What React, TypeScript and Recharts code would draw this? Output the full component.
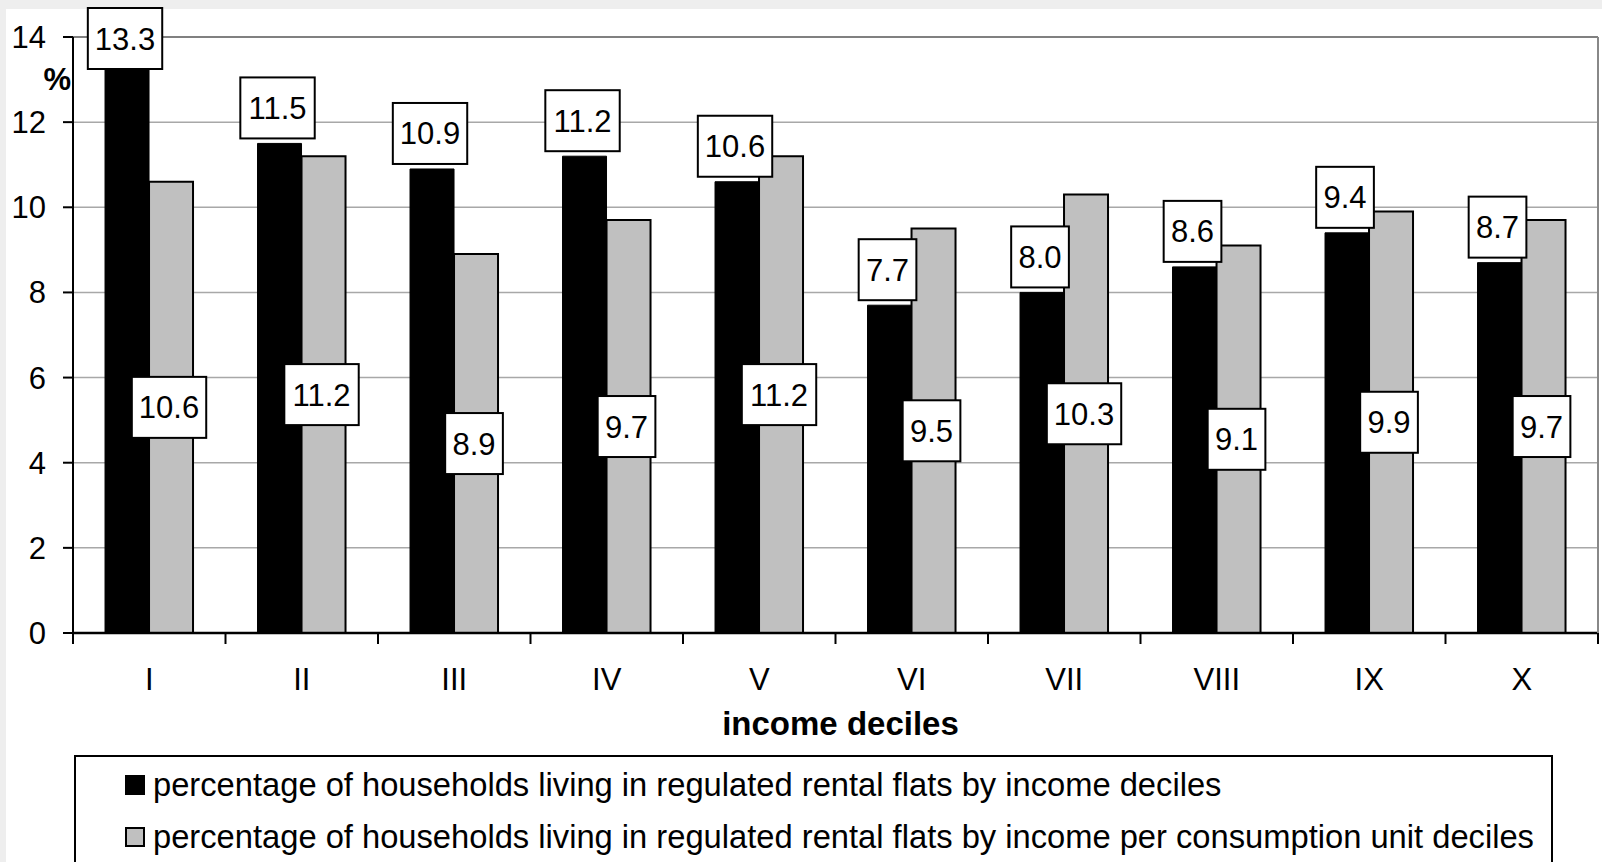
import {
  BarChart,
  Bar,
  XAxis,
  YAxis,
  CartesianGrid,
  Legend,
  LabelList,
  ReferenceLine
} from 'recharts'

const deciles = ['I', 'II', 'III', 'IV', 'V', 'VI', 'VII', 'VIII', 'IX', 'X']
const byIncome = [13.3, 11.5, 10.9, 11.2, 10.6, 7.7, 8.0, 8.6, 9.4, 8.7]
const byConsumptionUnit = [10.6, 11.2, 8.9, 9.7, 11.2, 9.5, 10.3, 9.1, 9.9, 9.7]
const yTicks = [0, 2, 4, 6, 8, 10, 12, 14]
const seriesNames = [
  'percentage of households living in regulated rental flats by income deciles',
  'percentage of households living in regulated rental flats by income per consumption unit deciles'
]

const chartData = deciles.map((d, i) => ({
  decile: d,
  income: byIncome[i],
  unit: byConsumptionUnit[i]
}))

const FONT = '"Liberation Sans", Arial, Helvetica, sans-serif'
const BOX_H = 61

function boxWidth(text: string) {
  let w = 0
  for (const c of text) w += c === '.' ? 8.3 : 16.7
  return w + 16
}

function ValueBox({ cx, cy, text }: { cx: number; cy: number; text: string }) {
  const w = boxWidth(text)
  return (
    <g>
      <rect
        x={cx - w / 2}
        y={cy - BOX_H / 2}
        width={w}
        height={BOX_H}
        fill="#fff"
        stroke="#000"
        strokeWidth={2}
      />
      <text x={cx} y={cy} dy={11} textAnchor="middle" fontSize={31} fontFamily={FONT} fill="#000">
        {text}
      </text>
    </g>
  )
}

// black series: box sits just above the bar, kept inside the plot top
const topLabel = (props: any) => {
  const { x, y, width, value } = props
  const cy = Math.max(Number(y) - 5 - BOX_H / 2, 8 + BOX_H / 2)
  return <ValueBox cx={Number(x) + Number(width) / 2 - 2} cy={cy} text={Number(value).toFixed(1)} />
}

// grey series: box in the middle of the bar
const centerLabel = (props: any) => {
  const { x, y, width, height, value } = props
  return (
    <ValueBox
      cx={Number(x) + Number(width) / 2 - 2}
      cy={Number(y) + Number(height) / 2}
      text={Number(value).toFixed(1)}
    />
  )
}

function DecileTick(props: any) {
  const { x, y, payload, index } = props
  const half = payload?.offset || 1525 / deciles.length / 2
  return (
    <g>
      <line x1={x - half} x2={x - half} y1={y - 35} y2={y - 24} stroke="#000" strokeWidth={2} />
      {index === deciles.length - 1 && (
        <line x1={x + half} x2={x + half} y1={y - 35} y2={y - 24} stroke="#000" strokeWidth={2} />
      )}
      <text x={x} y={y} dy={22} textAnchor="middle" fontSize={31} fontFamily={FONT} fill="#000">
        {payload.value}
      </text>
    </g>
  )
}

function LegendBox(props: any) {
  const items = props.payload || []
  return (
    <div
      style={{
        boxSizing: 'border-box',
        width: 1479,
        height: 115,
        border: '2px solid #000',
        background: '#fff',
        paddingTop: 2,
        fontFamily: FONT,
        fontSize: 32.7,
        color: '#000'
      }}
    >
      {items.map((it: any, i: number) => (
        <div key={i} style={{ display: 'flex', alignItems: 'center', height: 52, paddingLeft: 49 }}>
          <span
            style={{
              display: 'inline-block',
              boxSizing: 'border-box',
              width: 20,
              height: 20,
              background: it.color,
              border: '2px solid #000',
              marginRight: 8
            }}
          />
          <span style={{ whiteSpace: 'nowrap' }}>{it.value}</span>
        </div>
      ))}
    </div>
  )
}

export default function App() {
  return (
    <div
      style={{
        position: 'fixed',
        left: 0,
        top: 0,
        width: 1602,
        height: 862,
        overflow: 'hidden',
        background: '#eeeeee'
      }}
    >
      <div style={{ position: 'absolute', left: 6, top: 9, right: 0, bottom: 0, background: '#fff' }} />
      <div style={{ position: 'absolute', left: 0, top: 0 }}>
        <BarChart
          width={1602}
          height={862}
          data={chartData}
          margin={{ top: 37, right: 0, bottom: 0, left: 0 }}
          barCategoryGap="21%"
          barGap={0}
        >
          <CartesianGrid vertical={false} stroke="#a8a8a8" strokeWidth={1.5} yAxisId="left" />
          <XAxis
            dataKey="decile"
            height={229}
            axisLine={{ stroke: '#000', strokeWidth: 2.5 }}
            tickLine={false}
            tickSize={11}
            tickMargin={24}
            tick={<DecileTick />}
            interval={0}
            label={(p: any) => {
              const vb = p.viewBox || { x: 73, y: 633, width: 1525 }
              return (
                <text
                  x={vb.x + vb.width / 2 + 5}
                  y={vb.y + 102}
                  textAnchor="middle"
                  fontSize={33}
                  fontWeight="bold"
                  fontFamily={FONT}
                  fill="#000"
                >
                  income deciles
                </text>
              )
            }}
          />
          <YAxis
            yAxisId="left"
            width={73}
            domain={[0, 14]}
            ticks={yTicks}
            interval={0}
            axisLine={{ stroke: '#000', strokeWidth: 2 }}
            tickLine={{ stroke: '#000', strokeWidth: 2 }}
            tickSize={10}
            tickMargin={17}
            tick={{ fontSize: 31, fill: '#000', fontFamily: FONT }}
            label={(p: any) => {
              const vb = p.viewBox || { x: 0, y: 37, width: 73 }
              return (
                <text
                  x={vb.x + vb.width - 2}
                  y={vb.y + 53}
                  textAnchor="end"
                  fontSize={31}
                  fontWeight="bold"
                  fontFamily={FONT}
                  fill="#000"
                >
                  %
                </text>
              )
            }}
          />
          <YAxis
            yAxisId="right"
            orientation="right"
            width={4}
            domain={[0, 14]}
            tick={false}
            tickLine={false}
            axisLine={{ stroke: '#888', strokeWidth: 2 }}
          />
          <ReferenceLine yAxisId="left" y={14} stroke="#808080" strokeWidth={2} />
          <Legend
            layout="vertical"
            align="center"
            verticalAlign="middle"
            content={<LegendBox />}
            wrapperStyle={{ left: 74, top: 755, width: 1479 }}
          />
          <Bar
            yAxisId="left"
            dataKey="income"
            name={seriesNames[0]}
            fill="#000"
            stroke="#000"
            strokeWidth={1}
            isAnimationActive={false}
          >
            <LabelList dataKey="income" content={topLabel} />
          </Bar>
          <Bar
            yAxisId="left"
            dataKey="unit"
            name={seriesNames[1]}
            fill="#c0c0c0"
            stroke="#000"
            strokeWidth={2}
            isAnimationActive={false}
          >
            <LabelList dataKey="unit" content={centerLabel} />
          </Bar>
        </BarChart>
      </div>
    </div>
  )
}
